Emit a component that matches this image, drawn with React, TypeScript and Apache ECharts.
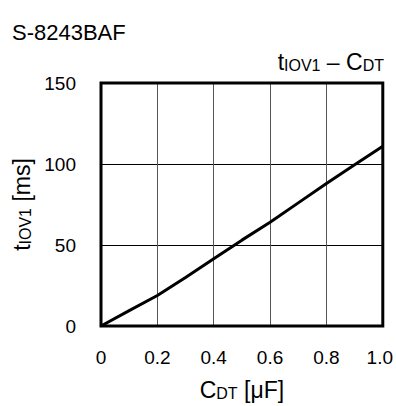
import React, { useEffect, useRef } from "react";
import * as echarts from "echarts";

const xValues = [0, 0.1, 0.2, 0.3, 0.4, 0.5, 0.6, 0.7, 0.8, 0.9, 1.0];
const yValues = [0, 9.5, 18.8, 30, 41.5, 53, 64, 76, 88, 99.5, 111];
const xTicks = [0, 0.2, 0.4, 0.6, 0.8, 1.0];
const yTicks = [0, 50, 100, 150];

const FONT = "Liberation Sans, Arial, sans-serif";

export default function App() {
  const ref = useRef<HTMLDivElement>(null);
  useEffect(() => {
    document.body.style.margin = "0";
    document.documentElement.style.overflow = "hidden";
    document.body.style.overflow = "hidden";
    if (!ref.current) return;
    const chart = echarts.init(ref.current, undefined, { renderer: "svg" });
    const richA = {
      m: { fontSize: 23, fontFamily: FONT, color: "#000", verticalAlign: "bottom", lineHeight: 24 },
      s: { fontSize: 16, fontFamily: FONT, color: "#000", verticalAlign: "bottom", lineHeight: 12 },
    };
    const richG = {
      m: { fontSize: 23, fontFamily: FONT, fill: "#000", verticalAlign: "bottom", lineHeight: 24 },
      s: { fontSize: 16, fontFamily: FONT, fill: "#000", verticalAlign: "bottom", lineHeight: 12 },
    };
    chart.setOption({
      animation: false,
      backgroundColor: "#fff",
      textStyle: { fontFamily: FONT },
      grid: {
        left: 101,
        top: 83,
        width: 283,
        height: 244,
        show: true,
        borderColor: "#000",
        borderWidth: 3,
        backgroundColor: "transparent",
        z: 3,
      },
      graphic: [
        {
          type: "text",
          left: 12,
          top: 21,
          style: { text: "S-8243BAF", fontSize: 22, fontFamily: FONT, fill: "#000" },
        },
        {
          type: "text",
          right: 12,
          top: 50,
          style: {
            text: "{m|t}{s|IOV1}{m| – C}{s|DT}",
            rich: richG,
          },
        },
      ],
      xAxis: {
        type: "value",
        min: 0,
        max: 1,
        interval: 0.2,
        name: "{m|C}{s|DT}{m| [μF]}",
        nameLocation: "middle",
        nameGap: 51,
        nameTextStyle: { rich: richA },
        axisLine: { show: false },
        axisTick: { show: false },
        axisLabel: {
          margin: 22,
          fontSize: 19,
          fontFamily: FONT,
          color: "#000",
          rich: {
            r: { fontSize: 19, fontFamily: FONT, color: "#000", padding: [0, 6, 0, 0] },
          },
          formatter: (v: number) => {
            const r = Number(v.toFixed(1));
            if (!xTicks.includes(r)) return "";
            if (r === 0) return "0";
            if (r === 1) return "{r|1.0}";
            return r.toFixed(1);
          },
        },
        splitLine: { show: true, lineStyle: { color: "#555", width: 1 } },
      },
      yAxis: {
        type: "value",
        min: 0,
        max: 150,
        interval: 50,
        name: "{m|t}{s|IOV1}{m| [ms]}",
        nameLocation: "middle",
        nameRotate: 90,
        nameGap: 66,
        nameTextStyle: { rich: richA },
        axisLine: { show: false },
        axisTick: { show: false },
        axisLabel: {
          margin: 25,
          fontSize: 19,
          fontFamily: FONT,
          color: "#000",
          formatter: (v: number) => (yTicks.includes(v) ? String(v) : ""),
        },
        splitLine: { show: true, lineStyle: { color: "#000", width: 1 } },
      },
      series: [
        {
          type: "line",
          data: xValues.map((x, i) => [x, yValues[i]]),
          showSymbol: false,
          lineStyle: { color: "#000", width: 3 },
          z: 4,
        },
      ],
    });
    return () => chart.dispose();
  }, []);
  return <div ref={ref} style={{ width: 396, height: 406 }} />;
}
